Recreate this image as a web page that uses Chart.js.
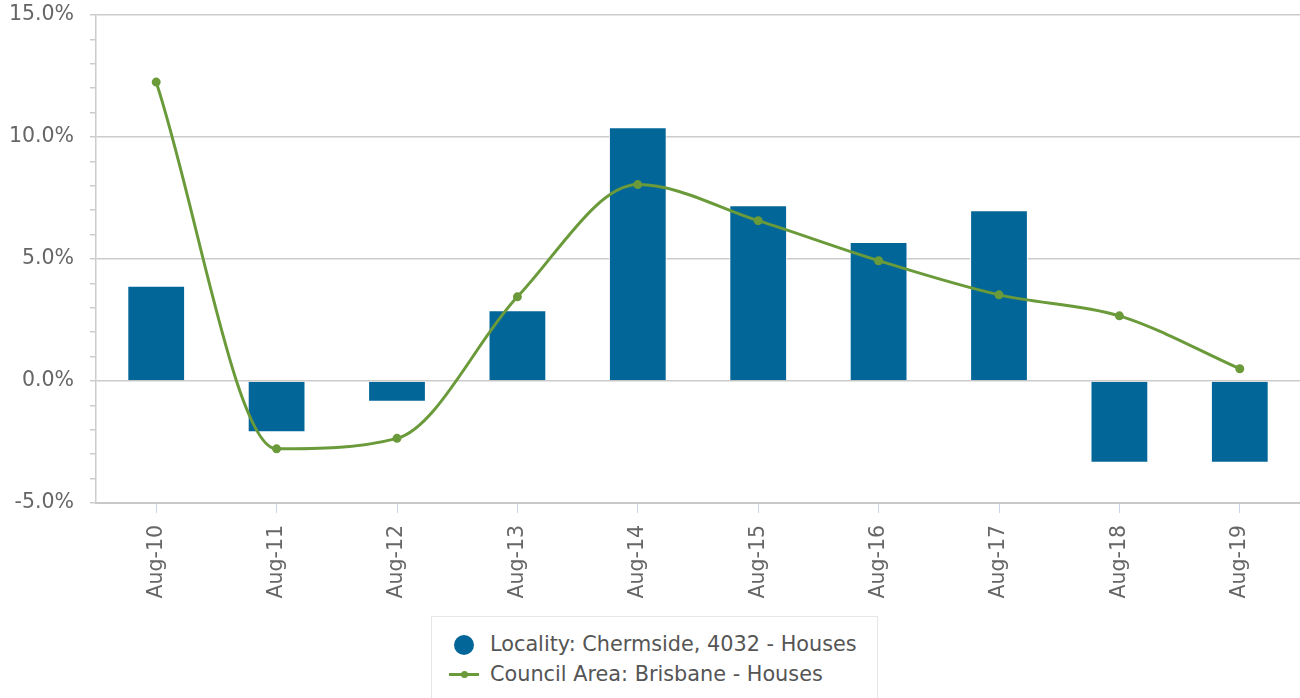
<!DOCTYPE html>
<html>
<head>
<meta charset="utf-8">
<script src="https://cdn.jsdelivr.net/npm/chart.js@4"></script>
<style>
  html, body { margin: 0; background: #fff; font-family: "DejaVu Sans", sans-serif; overflow: hidden; }
  #wrap { position: relative; width: 1300px; height: 698px; overflow: hidden; }
  #legend {
    position: absolute; left: 431px; top: 616px; width: 445px; height: 100px;
    border: 1px solid #e6e6e6; background: #fff;
  }
  .item { position: absolute; left: 0; font-size: 20.8px; color: #555; white-space: nowrap; }
  .item span.txt { position: absolute; left: 58px; top: -13px; }
  .dot { position: absolute; left: 22px; top: -10px; width: 20px; height: 20px; border-radius: 50%; background: #036698; }
  .ln { position: absolute; left: 17px; top: -2px; width: 30px; height: 3px; background: #6a9a3a; }
  .ln::after { content: ""; position: absolute; left: 12px; top: -2px; width: 7px; height: 7px; border-radius: 50%; background: #6a9a3a; }
</style>
</head>
<body>
<div id="wrap">
  <canvas id="growthChart" width="1306" height="698"></canvas>
  <div id="legend">
    <div class="item" style="top:28px"><div class="dot"></div><span class="txt">Locality: Chermside, 4032 - Houses</span></div>
    <div class="item" style="top:58px"><div class="ln"></div><span class="txt">Council Area: Brisbane - Houses</span></div>
  </div>
</div>
<script>
const labels = ['Aug-10', 'Aug-11', 'Aug-12', 'Aug-13', 'Aug-14', 'Aug-15', 'Aug-16', 'Aug-17', 'Aug-18', 'Aug-19'];
const localityHouses = [3.9, -2.1, -0.85, 2.9, 10.4, 7.2, 5.7, 7.0, -3.35, -3.35];
const councilHouses = [12.25, -2.78, -2.35, 3.45, 8.05, 6.57, 4.93, 3.53, 2.67, 0.5];
const yTicks = [-5, 0, 5, 10, 15];

Chart.defaults.font.family = '"DejaVu Sans", sans-serif';
Chart.defaults.color = '#666';

const config = {
  data: {
    labels: labels,
    datasets: [
      {
        type: 'line',
        label: 'Council Area: Brisbane - Houses',
        data: councilHouses,
        borderColor: '#6a9a3a',
        backgroundColor: '#6a9a3a',
        borderWidth: 3,
        pointRadius: 3,
        pointHoverRadius: 3,
        cubicInterpolationMode: 'monotone',
        order: 1
      },
      {
        type: 'bar',
        label: 'Locality: Chermside, 4032 - Houses',
        data: localityHouses,
        backgroundColor: '#036698',
        borderColor: '#ffffff',
        borderWidth: 1,
        barPercentage: 0.48,
        categoryPercentage: 1,
        order: 2
      }
    ]
  },
  options: {
    responsive: false,
    animation: false,
    layout: { padding: { top: 15, right: 0, left: 0, bottom: 0 } },
    plugins: {
      legend: { display: false },
      tooltip: { enabled: false }
    },
    scales: {
      x: {
        grid: {
          offset: false,
          color: 'rgba(0,0,0,0)',
          tickColor: '#ccd6eb',
          tickLength: 10
        },
        border: { color: '#c8c8c8', width: 2 },
        ticks: {
          maxRotation: 90,
          minRotation: 90,
          padding: 12,
          font: { size: 20.5 },
          color: '#666'
        },
        afterFit: s => { s.height = 195; s.paddingLeft = 0; s.paddingRight = 0; }
      },
      y: {
        min: -5,
        max: 15,
        grid: {
          color: ctx => yTicks.includes(ctx.tick.value) ? '#cccccc' : 'rgba(0,0,0,0)',
          tickColor: '#cccccc',
          tickLength: 6,
          lineWidth: 1.5
        },
        border: { color: '#cccccc', width: 1.5 },
        ticks: {
          stepSize: 1,
          autoSkip: false,
          padding: 16,
          font: { size: 20.5 },
          color: '#666',
          callback: v => yTicks.includes(v) ? v.toFixed(1) + '%' : ''
        },
        afterFit: s => { s.width = 96; s.paddingTop = 0; s.paddingBottom = 0; }
      }
    }
  }
};

const growthChart = new Chart('growthChart', config);
</script>
</body>
</html>
